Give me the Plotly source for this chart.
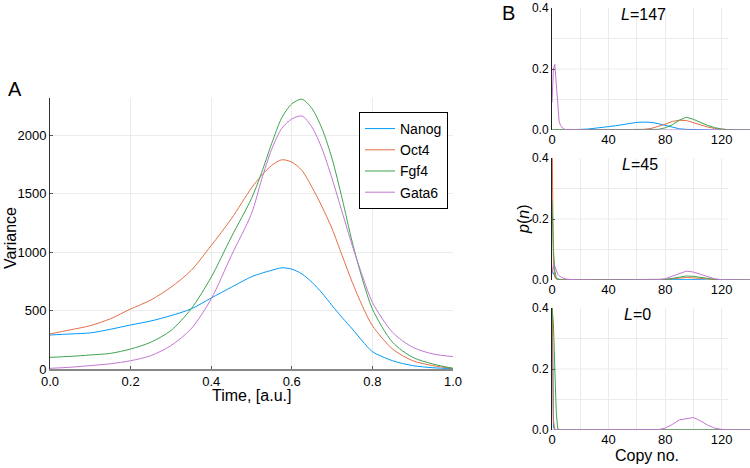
import plotly.graph_objects as go

# ---------------- Panel A data: variance vs time ----------------
time = [0.0, 0.05, 0.1, 0.15, 0.2, 0.25, 0.3, 0.35, 0.4, 0.45, 0.5, 0.525, 0.55, 0.575,
        0.6, 0.625, 0.65, 0.675, 0.7, 0.725, 0.75, 0.775, 0.8, 0.85, 0.9, 0.95, 1.0]
var_nanog = [291, 300, 309, 340, 377, 411, 457, 514, 608, 700, 790, 820, 845, 866,
             855, 814, 743, 650, 543, 440, 343, 240, 149, 71, 29, 11, 3]
var_oct4 = [300, 335, 371, 430, 514, 590, 700, 843, 1057, 1286, 1550, 1657, 1743, 1791,
            1771, 1700, 1557, 1390, 1200, 970, 743, 540, 371, 171, 71, 29, 5]
var_fgf4 = [100, 108, 120, 134, 171, 229, 329, 514, 786, 1130, 1460, 1680, 1930, 2150,
            2270, 2310, 2230, 2057, 1800, 1457, 1086, 771, 514, 229, 100, 43, 6]
var_gata6 = [6, 15, 29, 45, 71, 114, 200, 343, 600, 971, 1330, 1620, 1880, 2060,
             2140, 2166, 2071, 1886, 1629, 1343, 1057, 800, 571, 314, 186, 129, 106]

gene_names = ["Nanog", "Oct4", "Fgf4", "Gata6"]
gene_colors = ["#009AFA", "#E36F47", "#3EA44E", "#C376D3"]

# ---------------- Panel B data: p(n) vs copy number ----------------
copy_n = [0, 1, 2, 3, 4, 5, 6, 8, 10, 15, 20, 25, 30, 35, 40, 45, 50, 55, 60, 65, 70,
          75, 80, 85, 90, 95, 100, 105, 110, 115, 120, 125, 130, 135, 140]

# L = 147
p147_nanog = [0, 0, 0, 0, 0, 0, 0, 0, 0, 0.001, 0.002, 0.003, 0.005, 0.008, 0.011, 0.014,
              0.018, 0.022, 0.025, 0.026, 0.025, 0.021, 0.015, 0.009, 0.004, 0.002, 0.001,
              0, 0, 0, 0, 0, 0, 0, 0]
p147_oct4 = [0, 0, 0, 0, 0, 0, 0, 0, 0, 0, 0, 0, 0, 0, 0, 0, 0, 0, 0.001, 0.002, 0.005,
             0.011, 0.019, 0.028, 0.032, 0.031, 0.024, 0.016, 0.010, 0.005, 0.002, 0.001,
             0, 0, 0]
p147_fgf4 = [0, 0, 0, 0, 0, 0, 0, 0, 0, 0, 0, 0, 0, 0, 0, 0, 0, 0, 0, 0, 0, 0.002,
             0.007, 0.017, 0.032, 0.042, 0.035, 0.025, 0.015, 0.008, 0.003, 0.001, 0, 0, 0]
p147_gata6 = [0.09, 0.20, 0.215, 0.15, 0.07, 0.03, 0.015, 0.004, 0.001, 0, 0, 0, 0, 0, 0,
              0, 0, 0, 0, 0, 0, 0, 0, 0, 0, 0, 0, 0, 0, 0, 0, 0, 0, 0, 0]

# L = 45
p45_nanog = [0.03, 0.02, 0.01, 0.005, 0.003, 0.002, 0.001, 0.001, 0.001, 0.001, 0.001,
             0.001, 0.001, 0.002, 0.002, 0.002, 0.002, 0.003, 0.003, 0.003, 0.003, 0.002,
             0.002, 0.002, 0.001, 0.001, 0.001, 0.001, 0, 0, 0, 0, 0, 0, 0]
p45_oct4 = [0.5, 0.05, 0.01, 0.003, 0.001, 0.001, 0.001, 0.001, 0.001, 0, 0, 0, 0, 0, 0,
            0, 0, 0, 0, 0, 0, 0.001, 0.002, 0.004, 0.006, 0.008, 0.007, 0.005, 0.003,
            0.001, 0, 0, 0, 0, 0]
p45_fgf4 = [0.26, 0.10, 0.03, 0.008, 0.003, 0.001, 0, 0, 0, 0, 0, 0, 0, 0, 0, 0, 0, 0, 0,
            0, 0, 0.001, 0.002, 0.005, 0.010, 0.013, 0.012, 0.008, 0.004, 0.002, 0.001,
            0, 0, 0, 0]
p45_gata6 = [0.02, 0.05, 0.045, 0.03, 0.02, 0.015, 0.01, 0.006, 0.003, 0.001, 0, 0, 0, 0,
             0, 0, 0, 0, 0, 0, 0, 0.001, 0.004, 0.012, 0.020, 0.029, 0.026, 0.018, 0.010,
             0.004, 0.001, 0, 0, 0, 0]

# L = 0
p0_nanog = [0.45, 0.01, 0, 0, 0, 0, 0, 0, 0, 0, 0, 0, 0, 0, 0, 0, 0, 0, 0, 0, 0, 0, 0, 0,
            0, 0, 0, 0, 0, 0, 0, 0, 0, 0, 0]
p0_oct4 = [0.5, 0.03, 0.005, 0, 0, 0, 0, 0, 0, 0, 0, 0, 0, 0, 0, 0, 0, 0, 0, 0, 0, 0, 0,
           0, 0, 0, 0, 0, 0, 0, 0, 0, 0, 0, 0]
p0_fgf4 = [0.40, 0.35, 0.20, 0.06, 0.005, 0.001, 0, 0, 0, 0, 0, 0, 0, 0, 0, 0, 0, 0, 0, 0,
           0, 0, 0, 0.001, 0.002, 0.002, 0.002, 0.001, 0, 0, 0, 0, 0, 0, 0]
p0_gata6 = [0, 0, 0, 0, 0, 0, 0, 0, 0, 0, 0, 0, 0, 0, 0, 0, 0, 0, 0, 0, 0, 0.001, 0.006,
            0.018, 0.033, 0.036, 0.041, 0.030, 0.016, 0.006, 0.002, 0.0005, 0, 0, 0]

panel_b_labels = ["<i>L</i>=147", "<i>L</i>=45", "<i>L</i>=0"]
panel_b_series = [
    [p147_nanog, p147_oct4, p147_fgf4, p147_gata6],
    [p45_nanog, p45_oct4, p45_fgf4, p45_gata6],
    [p0_nanog, p0_oct4, p0_fgf4, p0_gata6],
]

FONT = "Liberation Sans, Arial, Helvetica, sans-serif"
GRID = "#ebebeb"

fig = go.Figure()

for name, color, vals in zip(gene_names, gene_colors,
                             [var_nanog, var_oct4, var_fgf4, var_gata6]):
    fig.add_trace(go.Scatter(x=time, y=vals, mode="lines", name=name,
                             line=dict(color=color, width=1, shape="spline", smoothing=0.8),
                             xaxis="x", yaxis="y", showlegend=True))

for i, series in enumerate(panel_b_series):
    ax = str(i + 2)
    for name, color, vals in zip(gene_names, gene_colors, series):
        fig.add_trace(go.Scatter(x=copy_n, y=vals, mode="lines", name=name,
                                 line=dict(color=color, width=1),
                                 xaxis="x" + ax, yaxis="y" + ax, showlegend=False))

W, H = 750, 468
def px_x(p):
    return p / W
def px_y(p):
    return 1 - p / H

layout = dict(
    width=W, height=H, margin=dict(l=0, r=0, t=0, b=0, autoexpand=False),
    paper_bgcolor="white", plot_bgcolor="white",
    font=dict(family=FONT, size=12, color="black"),
    legend=dict(x=px_x(359), y=px_y(112), xanchor="left", yanchor="top",
                bordercolor="black", borderwidth=1, bgcolor="white",
                font=dict(size=14, family=FONT), itemwidth=30, tracegroupgap=0),
    xaxis=dict(domain=[px_x(50), px_x(453)], range=[0, 1], anchor="y", automargin=False,
               tickvals=[0, 0.2, 0.4, 0.6, 0.8, 1.0], tickformat=".1f",
               showgrid=True, gridcolor=GRID, zeroline=False,
               showline=True, linecolor="#888", linewidth=1.5,
               ticks="inside", ticklen=3, tickcolor="#555",
               tickfont=dict(size=13)),
    yaxis=dict(domain=[px_y(369), px_y(98)], range=[0, 2320], anchor="x", automargin=False,
               tickvals=[0, 500, 1000, 1500, 2000],
               showgrid=True, gridcolor=GRID, zeroline=False,
               showline=True, linecolor="#333", linewidth=1,
               ticks="inside", ticklen=3, tickcolor="#555",
               tickfont=dict(size=13)),
)

b_tops = [8, 158, 308]
b_bots = [130, 280, 430]
shapes = []
for i in range(3):
    ax = str(i + 2)
    layout["xaxis" + ax] = dict(
        domain=[px_x(552), 1.0], range=[0, 140], anchor="y" + ax, automargin=False,
        tickvals=[0, 40, 80, 120], showgrid=True, gridcolor=GRID, zeroline=False,
        minor=dict(dtick=20, tick0=0, showgrid=True, gridcolor=GRID, ticks=""),
        showline=False, ticks="", tickfont=dict(size=13))
    layout["yaxis" + ax] = dict(
        domain=[px_y(b_bots[i]), px_y(b_tops[i])], range=[0, 0.4], anchor="x" + ax,
        automargin=False,
        tickvals=[0, 0.2, 0.4], tickformat=".1f", showgrid=False, zeroline=False,
        showline=True, linecolor="#222", linewidth=1,
        ticks="inside", ticklen=3, tickcolor="#555", tickfont=dict(size=12))
    for g in [0.1, 0.2, 0.3]:
        shapes.append(dict(type="line", xref="paper", yref="y" + ax,
                           x0=px_x(552), x1=px_x(728), y0=g, y1=g,
                           line=dict(color=GRID, width=1), layer="below"))

layout["shapes"] = shapes

def ann(text, x, y, size=16, angle=0):
    return dict(text=text, x=px_x(x), y=px_y(y), xref="paper", yref="paper",
                xanchor="center", yanchor="middle", showarrow=False,
                textangle=angle, font=dict(size=size))

annotations = [
    ann("A", 15, 89, 20),
    ann("B", 508, 13, 20),
    ann("Variance", 10, 238, 16, -90),
    ann("Time, [a.u.]", 251, 395, 16),
    ann("Copy no.", 647, 455, 16),
    ann("<i>p</i>(<i>n</i>)", 523, 220, 16, -90),
]
title_pos = [(643, 14), (640, 164), (637, 314)]
for lab, (tx, ty) in zip(panel_b_labels, title_pos):
    annotations.append(ann(lab, tx, ty, 16))
layout["annotations"] = annotations

fig.update_layout(**layout)
fig.write_html("out.html", config={"displayModeBar": False},
               post_script="document.body.style.margin='0px';")
